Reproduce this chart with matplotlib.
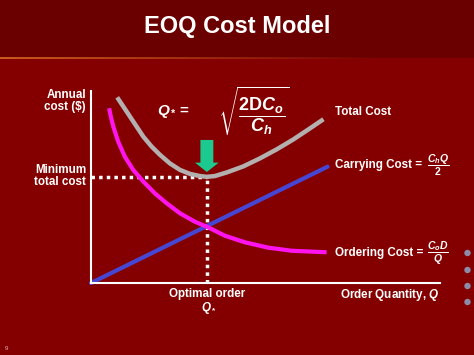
import numpy as np
import matplotlib
matplotlib.use("Agg")
import matplotlib.pyplot as plt
from matplotlib.patches import Rectangle, FancyArrow, Circle
from matplotlib.collections import LineCollection

plt.rcParams['font.family'] = ['Liberation Sans', 'DejaVu Sans']
plt.rcParams['mathtext.fontset'] = 'custom'
plt.rcParams['mathtext.rm'] = 'Liberation Sans:bold'
plt.rcParams['mathtext.it'] = 'Liberation Sans:bold:italic'
plt.rcParams['mathtext.bf'] = 'Liberation Sans:bold'

# Datos (unidades arbitrarias, ejes 0-100)
q_carrying = [0, 67.8]
c_carrying = [0, 60.6]

q_ordering = [5.2, 5.7, 6.4, 7.8, 9.7, 12.1, 15.0, 18.3, 21.7, 25.5, 29.8,
              33.2, 38.4, 44.1, 50.8, 57.5, 67.5]
c_ordering = [91.0, 86.5, 81.4, 73.6, 65.8, 58.9, 52.8, 46.7, 41.5, 36.3, 31.9,
              29.3, 24.6, 21.2, 18.4, 16.8, 16.0]

q_total = [7.5, 9.3, 11.2, 13.1, 15.0, 17.4, 19.8, 22.6, 25.5, 28.4, 31.2,
           33.2, 35.5, 38.9, 43.6, 48.4, 53.2, 58.0, 62.8, 66.6]
c_total = [96.7, 91.8, 86.6, 81.4, 76.2, 71.0, 66.7, 62.3, 58.9, 56.8, 55.7,
           55.3, 55.7, 57.6, 60.7, 64.9, 69.6, 74.8, 80.6, 85.3]

q_opt = 33.2
c_min = 55.1

W, H = 474, 355
bg = '#840000'
fig = plt.figure(figsize=(W / 100, H / 100), dpi=100, facecolor=bg)

# capa de fondo en pixeles
deco = fig.add_axes([0, 0, 1, 1])
deco.set_xlim(0, W)
deco.set_ylim(H, 0)
deco.axis('off')
deco.add_patch(Rectangle((0, 0), W, 58, color='#6A0000', lw=0))
xs = np.linspace(0, 380, 60)
segs = [[(xs[i], 58), (xs[i + 1], 58)] for i in range(len(xs) - 1)]
alphas = np.linspace(1, 0, len(segs))
deco.add_collection(LineCollection(segs, colors=[(0.85, 0.42, 0.15, a) for a in alphas], linewidths=1.2))
deco.text(237, 27, "EOQ Cost Model", color='white', fontsize=17, fontweight='bold',
          ha='center', va='center')
for yb in [253, 270, 286, 302]:
    deco.add_patch(Circle((467.5, yb), 3.2, color='#8C8CAA', lw=0))
deco.text(6, 348, "9", color='#E8B0B0', fontsize=4.5, ha='center', va='center')

# grafico
ax = fig.add_axes([91 / W, 1 - 283 / H, (440 - 91) / W, (283 - 91) / H])
ax.set_facecolor('none')
ax.set_xlim(0, 100)
ax.set_ylim(0, 100)
for s in ['top', 'right']:
    ax.spines[s].set_visible(False)
for s in ['left', 'bottom']:
    ax.spines[s].set_color('white')
    ax.spines[s].set_linewidth(1.5)
ax.set_xticks([])
ax.set_yticks([])

ax.plot([0, q_opt], [c_min, c_min], color='white', lw=2.5, ls=(0, (1, 1.2)), clip_on=False)
ax.plot([q_opt, q_opt], [0, c_min], color='white', lw=2.5, ls=(0, (1, 1.2)), clip_on=False)
ax.plot(q_carrying, c_carrying, color='#4646D2', lw=3, solid_capstyle='round', clip_on=False)
ax.plot(q_ordering, c_ordering, color='#FF14F0', lw=3, solid_capstyle='butt',
        solid_joinstyle='round', clip_on=False)
ax.plot(q_total, c_total, color='#B4B0B0', lw=3.2, solid_capstyle='butt',
        solid_joinstyle='round', clip_on=False)
ax.add_patch(FancyArrow(q_opt, 74.5, 0, -16.7, width=3.7, head_width=6.8, head_length=4.9,
                        length_includes_head=True, color='#1CC98E', lw=0))

# textos
def ptext(x, y, s, **kw):
    fig.text(x / W, 1 - y / H, s, color='white', fontweight='bold', **kw)

fs = 8.4
ptext(86, 101, "Annual\ncost ($)", fontsize=fs, ha='right', va='center', linespacing=0.95)
ptext(86, 176, "Minimum\ntotal cost", fontsize=fs, ha='right', va='center', linespacing=0.95)
ptext(335, 112, "Total Cost", fontsize=fs, ha='left', va='center')
ptext(335, 165, "Carrying Cost =", fontsize=fs, ha='left', va='center')
ptext(438, 165, r"$\dfrac{C_hQ}{2}$", fontsize=7.5, ha='center', va='center')
ptext(335, 253, "Ordering Cost =", fontsize=fs, ha='left', va='center')
ptext(438, 253, r"$\dfrac{C_oD}{Q}$", fontsize=7.5, ha='center', va='center')
ptext(439, 295, r"Order Quantity, $Q$", fontsize=fs, ha='right', va='center')
ptext(207, 294, "Optimal order", fontsize=fs, ha='center', va='center')
ptext(209, 307.5, r"$Q_*$", fontsize=fs, ha='center', va='center')
ptext(174, 112, r"$Q_* =$", fontsize=11, ha='center', va='center')
ptext(254, 111, r"$\sqrt{\dfrac{\mathrm{2D}C_o}{C_h}}$", fontsize=13, ha='center', va='center')

fig.savefig("out.png", dpi=100, facecolor=bg)
